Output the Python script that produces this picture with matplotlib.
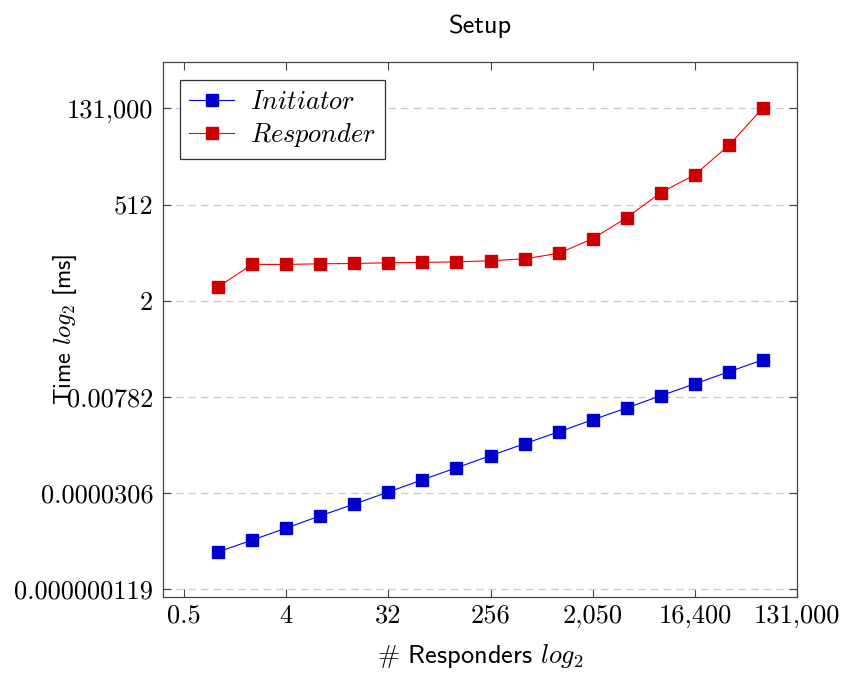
import matplotlib
matplotlib.use("Agg")
import matplotlib.pyplot as plt

plt.rcParams['mathtext.fontset'] = 'cm'

# Data
responders = [1, 2, 4, 8, 16, 32, 64, 128, 256, 512, 1024, 2048, 4096, 8192, 16384, 32768, 65536]
initiator = [1.01e-6, 2.0e-6, 4.0e-6, 8.1e-6, 1.6e-5, 3.2e-5, 6.5e-5, 1.3e-4, 2.6e-4,
             5.2e-4, 1.03e-3, 2.07e-3, 4.1e-3, 8.3e-3, 1.65e-2, 3.3e-2, 6.6e-2]
responder = [4.42, 16.2, 16.2, 16.8, 17.1, 17.8, 18.2, 18.8, 20.0, 22.4, 30.7,
             71.5, 240, 1025, 2860, 15600, 136000]

xtick_exp = [-1, 2, 5, 8, 11, 14, 17]
xtick_labels = ["0.5", "4", "32", "256", "2,050", "16,400", "131,000"]
ytick_exp = [-23, -15, -7, 1, 9, 17]
ytick_labels = ["0.000000119", "0.0000306", "0.00782", "2", "512", "131,000"]

W, H = 844, 674
fig = plt.figure(figsize=(W / 100, H / 100), dpi=100)
ax = fig.add_axes([163 / W, 1 - 597 / H, (797 - 163) / W, (597 - 62) / H])

ax.set_xscale('log', base=2)
ax.set_yscale('log', base=2)

ax.plot(responders, initiator, color='#0000ff', lw=0.8, marker='s', ms=8,
        mfc='#0000cc', mec='#0000cc', label='$Initiator$', zorder=3)
ax.plot(responders, responder, color='#ff0000', lw=0.8, marker='s', ms=8,
        mfc='#cc0000', mec='#cc0000', label='$Responder$', zorder=3)

ax.set_xlim(2 ** -1.617, 2 ** 17)
ax.set_ylim(2 ** -23.67, 2 ** 20.87)

ax.set_xticks([2.0 ** e for e in xtick_exp])
ax.set_xticklabels(xtick_labels, fontfamily='cmr10', fontsize=19)
ax.set_yticks([2.0 ** e for e in ytick_exp])
ax.set_yticklabels(ytick_labels, fontfamily='cmr10', fontsize=19)
ax.minorticks_off()

ax.tick_params(axis='both', which='major', direction='in', length=5.5, width=0.8,
               color='#444444', top=True, right=True)
ax.tick_params(axis='x', pad=5)
ax.tick_params(axis='y', pad=7)

ax.yaxis.grid(True, linestyle=(0, (5.5, 3.5)), color='#cccccc', lw=1.0)
ax.set_axisbelow(True)

for s in ax.spines.values():
    s.set_color('#444444')
    s.set_linewidth(0.9)

ax.set_title('Setup', fontfamily='cmss10', fontsize=19, pad=21)
ax.set_xlabel(r'$\#$ Responders $log_2$', fontfamily='cmss10', fontsize=19, labelpad=10)
ax.set_ylabel(r'Time $log_2$ [ms]', fontfamily='cmss10', fontsize=17.5)
ax.yaxis.set_label_coords((79 - 163) / (797 - 163), 0.5)

leg = ax.legend(loc='upper left', bbox_to_anchor=(0.027, 0.967), borderaxespad=0,
                fontsize=19, frameon=True, fancybox=False, framealpha=1,
                edgecolor='#333333', handlelength=1.7, handletextpad=0.6,
                borderpad=0.35, labelspacing=0.25)
leg.get_frame().set_linewidth(0.9)

fig.savefig('out.png', dpi=100)
